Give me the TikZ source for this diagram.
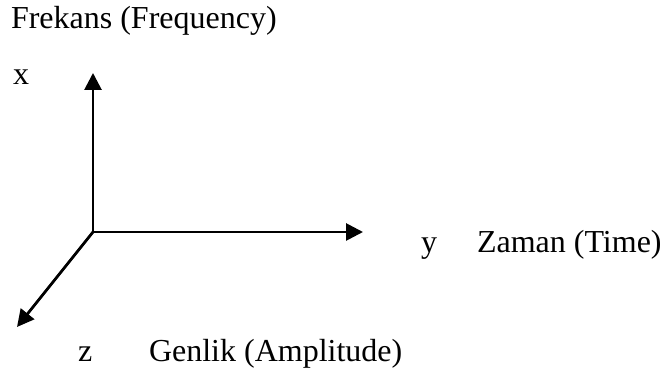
\documentclass[tikz,border=0pt]{standalone}
\usepackage{fontspec}
\setmainfont{Liberation Serif}
\usetikzlibrary{arrows.meta}
\begin{document}
\begin{tikzpicture}[x=1pt,y=1pt,
  lbl/.style={anchor=base west,inner sep=0pt,outer sep=0pt,font=\fontsize{32}{38}\selectfont},
  axis/.style={line width=2.8pt,-{Triangle[length=17pt,width=17pt]}}]
\useasboundingbox (0,0) rectangle (669,372);
\coordinate (O) at (93,140);
\coordinate (xt) at (93,299);
\coordinate (yt) at (363,140);
\coordinate (zt) at (17,45);
\draw[axis] (O) -- (xt);
\draw[axis] (O) -- (yt);
\draw[axis] (O) -- (zt);
\node[lbl] (freq) at (11,343) {Frekans (Frequency)};
\node[lbl] (xl) at (13,287) {x};
\node[lbl] (yl) at (421,119) {y};
\node[lbl] (time) at (477,119) {Zaman (Time)};
\node[lbl] (zl) at (78,11) {z};
\node[lbl] (amp) at (149,11) {Genlik (Amplitude)};
\end{tikzpicture}
\end{document}
